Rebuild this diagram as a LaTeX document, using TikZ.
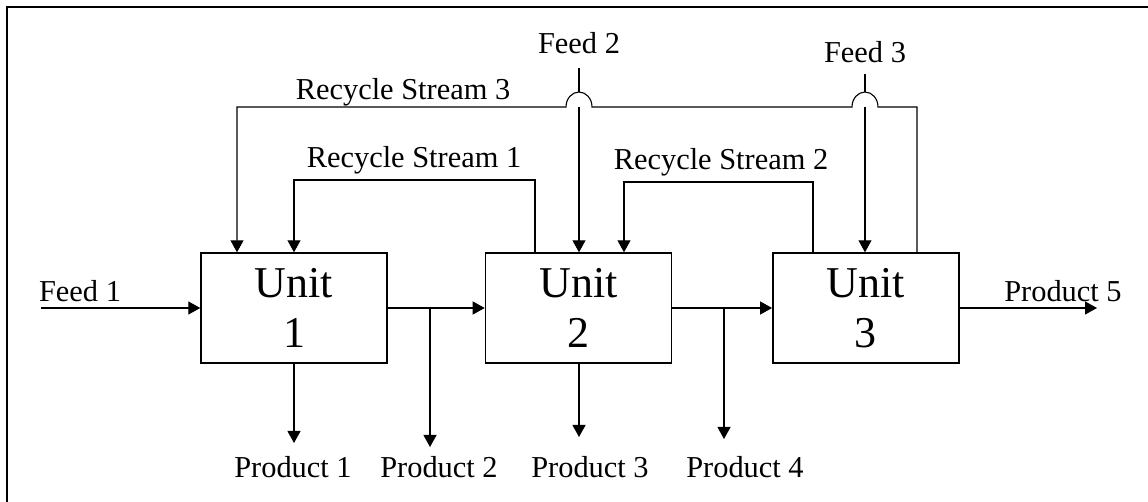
\documentclass[tikz,border=0pt]{standalone}
\usepackage{fontspec}
\setmainfont{Liberation Serif}
\usetikzlibrary{arrows.meta,positioning}

\begin{document}
\begin{tikzpicture}[x=0.5pt,y=-0.5pt,
unit/.style={draw, line width=0.7pt, minimum width=93pt, minimum height=55pt, inner sep=0pt, align=center, font=\fontsize{22}{25}\selectfont},
lbl/.style={font=\fontsize{15.2}{18}\selectfont, inner sep=0pt, anchor=base},
flow/.style={-{Triangle[length=6pt,width=6.5pt]}, line width=0.55pt},
hop/.style={fill=white}
]
\useasboundingbox (0,0) rectangle (1148,502);
\draw[line width=1pt] (7,502) -- (7,7) -- (1148,7);

% process units
\node[unit] (unit1) at (294,308) {Unit\\1};
\node[unit, right=48.5pt of unit1] (unit2) {Unit\\2};
\node[unit, right=50pt of unit2] (unit3) {Unit\\3};

% main line
\node[lbl] (feed1) at (80,302) {Feed 1};
\coordinate (f1) at (41,308);
\draw[flow] (f1) -- (unit1);
\draw[flow] (unit1) -- (unit2);
\draw[flow] (unit2) -- (unit3);
\node[lbl] (prod5) at (1063,302) {Product 5};
\coordinate (p5) at (1097,308);
\draw[flow] (unit3) -- (p5);

% side products
\coordinate (b2) at (430,308);
\coordinate (b4) at (724,308);
\coordinate (t1) at (294,443);
\coordinate (t2) at (430,447);
\coordinate (t3) at (579,437);
\coordinate (t4) at (724,439);
\draw[flow] (unit1.south -| t1) -- (t1);
\draw[flow] (b2) -- (t2);
\draw[flow] (unit2.south -| t3) -- (t3);
\draw[flow] (b4) -- (t4);
\node[lbl] (prod1) at (293,478) {Product 1};
\node[lbl] (prod2) at (439,478) {Product 2};
\node[lbl] (prod3) at (590,478) {Product 3};
\node[lbl] (prod4) at (745,478) {Product 4};

% feeds from the top
\node[lbl] (feed2) at (579,54) {Feed 2};
\node[lbl] (feed3) at (865,63) {Feed 3};
\coordinate (f2) at (579,68);
\coordinate (f3) at (865,74);
\draw[flow] (f2) -- (f2 |- unit2.north);
\draw[flow] (f3) -- (f3 |- unit3.north);

% recycle streams
\coordinate (r1a) at (535,180);
\coordinate (r1b) at (294,180);
\draw[flow] (unit2.north -| r1a) -- (r1a) -- (r1b) -- (unit1.north -| r1b);
\node[lbl] (rs1) at (414,168) {Recycle Stream 1};

\coordinate (r2a) at (813,182);
\coordinate (r2b) at (624,182);
\draw[flow] (unit3.north -| r2a) -- (r2a) -- (r2b) -- (unit2.north -| r2b);
\node[lbl] (rs2) at (721,170) {Recycle Stream 2};

\foreach \hx in {579,865}
  \fill[hop] (\hx+13,107) arc[start angle=360, end angle=180, x radius=13, y radius=15] -- cycle;
\coordinate (r3a) at (917,107);
\coordinate (r3b) at (237,107);
\draw[flow] (unit3.north -| r3a) -- (r3a) -- (878,107)
  arc[start angle=360, end angle=180, x radius=13, y radius=15] -- (592,107)
  arc[start angle=360, end angle=180, x radius=13, y radius=15] -- (r3b) -- (unit1.north -| r3b);
\node[lbl] (rs3) at (403,100) {Recycle Stream 3};
\end{tikzpicture}
\end{document}
